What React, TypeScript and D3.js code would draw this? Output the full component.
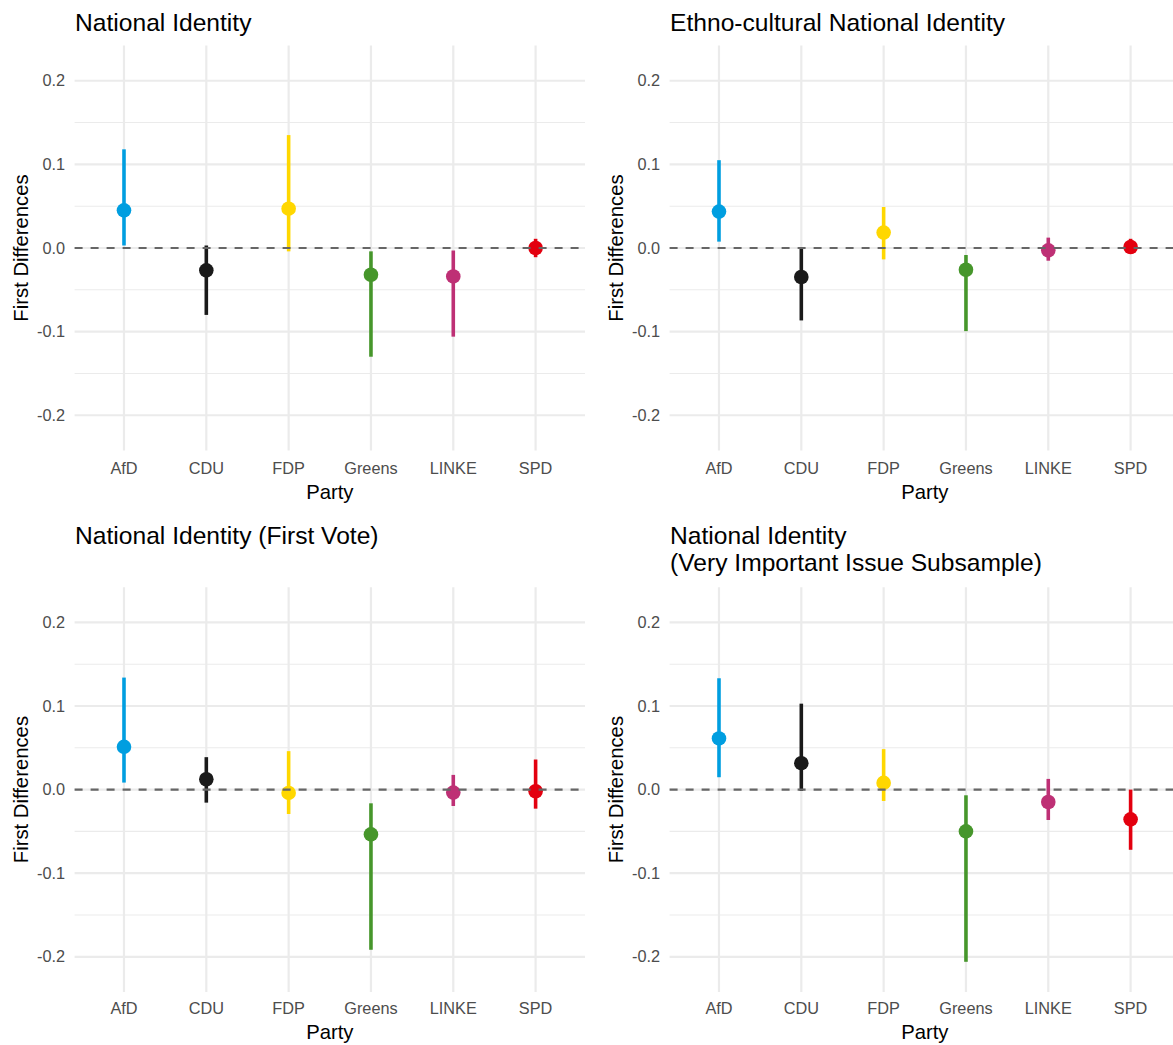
import React from "react";
import * as d3 from "d3";

const parties = ["AfD", "CDU", "FDP", "Greens", "LINKE", "SPD"];
const partyColors = ["#009ee0", "#1a1a1a", "#ffd700", "#46962b", "#be3075", "#e3000f"];

const yTicks = [-0.2, -0.1, 0, 0.1, 0.2];
const yTickLabels = ["-0.2", "-0.1", "0.0", "0.1", "0.2"];
const yMinorTicks = [-0.15, -0.05, 0.05, 0.15];

const titleNational = ["National Identity"];
const nationalEst = [0.045, -0.0267, 0.047, -0.032, -0.034, 0.0];
const nationalLow = [0.003, -0.08, -0.004, -0.13, -0.106, -0.011];
const nationalHigh = [0.118, 0.003, 0.135, -0.004, -0.003, 0.011];

const titleEthno = ["Ethno-cultural National Identity"];
const ethnoEst = [0.0435, -0.0347, 0.0184, -0.026, -0.0028, 0.0012];
const ethnoLow = [0.0076, -0.0866, -0.0136, -0.0994, -0.0152, -0.0068];
const ethnoHigh = [0.105, 0.0, 0.049, -0.0084, 0.0124, 0.011];

const titleFirstVote = ["National Identity (First Vote)"];
const firstVoteEst = [0.0512, 0.0124, -0.004, -0.0536, -0.0036, -0.002];
const firstVoteLow = [0.0084, -0.0156, -0.0292, -0.1916, -0.0196, -0.0228];
const firstVoteHigh = [0.134, 0.0388, 0.046, -0.0164, 0.0176, 0.036];

const titleImportant = ["National Identity", "(Very Important Issue Subsample)"];
const importantEst = [0.0612, 0.0316, 0.008, -0.05, -0.0148, -0.0356];
const importantLow = [0.0148, -0.0016, -0.0136, -0.206, -0.0364, -0.072];
const importantHigh = [0.1332, 0.1028, 0.0484, -0.0068, 0.0128, 0.0];

const yDomain = [-0.242, 0.242];

const FONT = "'Liberation Sans', Arial, Helvetica, sans-serif";

type PanelSpec = {
  title: string[];
  est: number[];
  low: number[];
  high: number[];
  x0: number;
  x1: number;
  y0: number;
  y1: number;
  titleY: number;
  tickY: number;
  axisTitleY: number;
};

const panels: PanelSpec[] = [
  { title: titleNational, est: nationalEst, low: nationalLow, high: nationalHigh, x0: 74.6, x1: 585, y0: 45.6, y1: 450.4, titleY: 30.5, tickY: 474.2, axisTitleY: 499.2 },
  { title: titleEthno, est: ethnoEst, low: ethnoLow, high: ethnoHigh, x0: 669.6, x1: 1180, y0: 45.6, y1: 450.4, titleY: 30.5, tickY: 474.2, axisTitleY: 499.2 },
  { title: titleFirstVote, est: firstVoteEst, low: firstVoteLow, high: firstVoteHigh, x0: 74.6, x1: 585, y0: 587.3, y1: 991.9, titleY: 543.8, tickY: 1014.2, axisTitleY: 1039.2 },
  { title: titleImportant, est: importantEst, low: importantLow, high: importantHigh, x0: 669.6, x1: 1180, y0: 587.3, y1: 991.9, titleY: 543.8, tickY: 1014.2, axisTitleY: 1039.2 },
];

function Panel({ p }: { p: PanelSpec }) {
  const x = d3.scalePoint<string>().domain(parties).range([p.x0, p.x1]).padding(0.6);
  const y = d3.scaleLinear().domain(yDomain).range([p.y1, p.y0]);
  const cy = (p.y0 + p.y1) / 2;
  const cx = (p.x0 + p.x1) / 2;
  return (
    <g>
      {yMinorTicks.map((t) => (
        <line key={"mi" + t} x1={p.x0} x2={p.x1} y1={y(t)} y2={y(t)} stroke="#ebebeb" strokeWidth={1.1} />
      ))}
      {yTicks.map((t) => (
        <line key={"ma" + t} x1={p.x0} x2={p.x1} y1={y(t)} y2={y(t)} stroke="#ebebeb" strokeWidth={2.2} />
      ))}
      {parties.map((c) => (
        <line key={"v" + c} x1={x(c)} x2={x(c)} y1={p.y0} y2={p.y1} stroke="#ebebeb" strokeWidth={2.2} />
      ))}
      {yTicks.map((t, i) => (
        <text key={"yl" + t} x={p.x0 - 9.5} y={y(t) + 5.7} textAnchor="end" fontSize={16.3} fill="#4d4d4d" fontFamily={FONT}>
          {yTickLabels[i]}
        </text>
      ))}
      {parties.map((c) => (
        <text key={"xl" + c} x={x(c)} y={p.tickY} textAnchor="middle" fontSize={16.3} fill="#4d4d4d" fontFamily={FONT}>
          {c}
        </text>
      ))}
      <text x={cx} y={p.axisTitleY} textAnchor="middle" fontSize={20.3} fill="#000" fontFamily={FONT}>
        Party
      </text>
      <text
        transform={`translate(${p.x0 - 47},${cy}) rotate(-90)`}
        textAnchor="middle"
        fontSize={20.3}
        fill="#000"
        fontFamily={FONT}
      >
        First Differences
      </text>
      {p.title.map((line, i) => (
        <text key={"t" + i} x={p.x0 + 0.5} y={p.titleY + i * 27} fontSize={24.6} fill="#000" fontFamily={FONT}>
          {line}
        </text>
      ))}
      {parties.map((c, i) => (
        <g key={"pr" + c}>
          <line x1={x(c)} x2={x(c)} y1={y(p.low[i])} y2={y(p.high[i])} stroke={partyColors[i]} strokeWidth={3.6} />
          <circle cx={x(c)} cy={y(p.est[i])} r={7.3} fill={partyColors[i]} />
        </g>
      ))}
      <line x1={p.x0} x2={p.x1} y1={y(0)} y2={y(0)} stroke="#666666" strokeWidth={2.2} strokeDasharray="8,8" />
    </g>
  );
}

export default function App() {
  return (
    <svg width={1173} height={1045} style={{ position: "absolute", left: 0, top: 0, background: "#fff" }}>
      <rect x={0} y={0} width={1173} height={1045} fill="#fff" />
      {panels.map((p, i) => (
        <Panel key={i} p={p} />
      ))}
    </svg>
  );
}
